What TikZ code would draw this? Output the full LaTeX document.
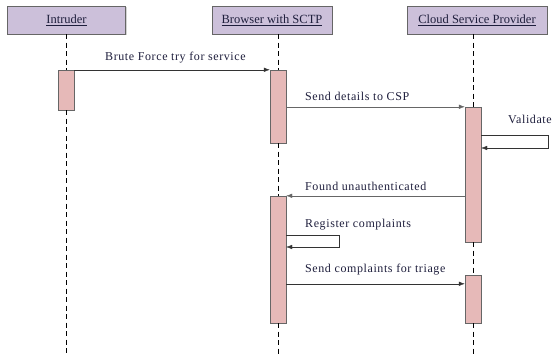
\documentclass[tikz,border=0pt]{standalone}
\usepackage{fontspec}
\setmainfont{Liberation Serif}
\usepackage{tikz}
\usetikzlibrary{arrows.meta, positioning, calc, shadows}

\definecolor{headfill}{RGB}{204,192,218}
\definecolor{actfill}{RGB}{230,185,184}
\definecolor{inktext}{RGB}{30,30,60}

\begin{document}
\begin{tikzpicture}[x=1pt, y=-1pt, >={Latex[length=6pt, width=4.5pt]},
    font=\fontsize{12.5}{14}\selectfont, text=inktext,
    headbox/.style={draw=gray!80!black, fill=headfill, minimum height=28pt, inner sep=0pt,
        drop shadow={shadow xshift=1.2pt, shadow yshift=-1.2pt, opacity=0.35, fill=gray}},
    actbar/.style={draw=gray!80!black, fill=actfill, minimum width=16pt, inner sep=0pt},
    life/.style={dashed, dash pattern=on 5pt off 3.5pt, black, line width=0.8pt},
    msg/.style={->, black!80, thin},
    lbl/.style={anchor=base west, inner sep=0pt,
        font=\fontsize{12}{14}\selectfont\addfontfeature{LetterSpace=5}}]

\useasboundingbox (0,0) rectangle (553,355);

% ── Participants ────────────────────────────────────────────────
\node[headbox, minimum width=118pt] (intr) at (66.5,20) {\underline{Intruder}};
\node[headbox, minimum width=120pt] (brow) at (272,20) {\underline{Browser with SCTP}};
\node[headbox, minimum width=140pt] (csp)  at (477,20) {\underline{Cloud Service Provider}};

% ── Activation bars ─────────────────────────────────────────────
\node[actbar, minimum height=40pt] (i1) at (66,90) {};
\node[actbar, minimum height=73pt] (b1) at (278,106.5) {};
\node[actbar, minimum height=127pt] (b2) at (278,259.5) {};
\node[actbar, minimum height=135pt] (c1) at (473,174.5) {};
\node[actbar, minimum height=48pt] (c2) at (473,299) {};

% ends of the lifelines
\coordinate (iend) at (66,354);
\coordinate (bend) at (278,354);
\coordinate (cend) at (473,354);

% ── Lifelines ───────────────────────────────────────────────────
\draw[life] (intr.south -| i1) -- (i1);
\draw[life] (i1) -- (iend);
\draw[life] (brow.south -| b1) -- (b1);
\draw[life] (b1) -- (b2);
\draw[life] (b2) -- (bend);
\draw[life] (csp.south -| c1) -- (c1);
\draw[life] (c1) -- (c2);
\draw[life] (c2) -- (cend);

% ── Messages ────────────────────────────────────────────────────
\draw[msg] (i1.north east) -- (b1.north west);
\node[lbl] (m1) at (105,61) {Brute Force try for service};

\draw[msg, black!60] (c1.north west -| b1.east) -- (c1.north west);
\node[lbl] (m2) at (305,101) {Send details to CSP};

% self call: Validate
\coordinate (v1) at (548,135);
\coordinate (v2) at (548,148);
\draw[msg] (c1.east |- v1) -- (v1) -- (v2) -- (c1.east |- v2);
\node[lbl] (m3) at (508,124) {Validate};

\draw[msg, black!60] (b2.north east -| c1.west) -- (b2.north east);
\node[lbl] (m4) at (305,190) {Found unauthenticated};

% self call: Register complaints
\coordinate (r1) at (339,235);
\coordinate (r2) at (339,247);
\draw[msg] (b2.east |- r1) -- (r1) -- (r2) -- (b2.east |- r2);
\node[lbl] (m5) at (305,227) {Register complaints};

\draw[msg] ([yshift=-9pt]c2.north west -| b2.east) -- ([yshift=-9pt]c2.north west);
\node[lbl] (m6) at (305,272) {Send complaints for triage};

\end{tikzpicture}
\end{document}
